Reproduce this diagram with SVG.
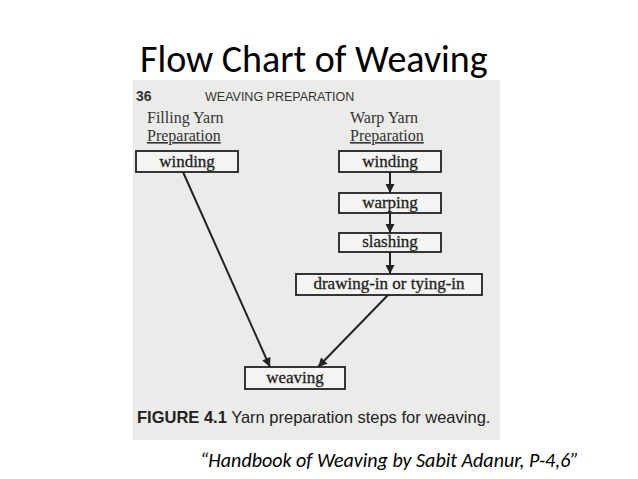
<svg xmlns="http://www.w3.org/2000/svg" width="638" height="479" viewBox="0 0 638 479">
<defs>
<marker id="ah" viewBox="0 0 10 10" refX="10" refY="5" markerWidth="10" markerHeight="9" orient="auto" markerUnits="userSpaceOnUse"><path d="M0,0 L10,5 L0,10 z" fill="#222"/></marker>
<style>
.box{fill:#f4f4f2;stroke:#222;stroke-width:1.8}
.t{font-family:"Liberation Serif",serif;font-size:17px;fill:#222;stroke:#222;stroke-width:0.3;text-anchor:middle}
.h{font-family:"Liberation Serif",serif;font-size:16px;fill:#333}
.c{stroke:#222;stroke-width:2;fill:none;marker-end:url(#ah)}
</style>
</defs>
<rect width="638" height="479" fill="#fff"/>
<text x="140" y="72" font-family="Carlito,'Open Sans','Liberation Sans',sans-serif" font-size="38" fill="#000">Flow Chart of Weaving</text>
<rect x="133" y="80" width="367" height="360" fill="#ebebea"/>
<text x="136" y="101" font-family="'Liberation Sans',sans-serif" font-size="14" font-weight="bold" fill="#333">36</text>
<text x="205" y="101" font-family="'Liberation Sans',sans-serif" font-size="12.5" fill="#333">WEAVING PREPARATION</text>
<text x="147" y="123" class="h">Filling Yarn</text>
<text x="147" y="141" class="h" text-decoration="underline">Preparation</text>
<text x="350" y="123" class="h">Warp Yarn</text>
<text x="350" y="141" class="h" text-decoration="underline">Preparation</text>
<g id="connectors">
<line class="c" x1="183" y1="172" x2="270" y2="367"/>
<line class="c" x1="390" y1="172" x2="390" y2="193"/>
<line class="c" x1="390" y1="213" x2="390" y2="233"/>
<line class="c" x1="390" y1="252" x2="390" y2="274"/>
<line class="c" x1="388" y1="295" x2="318" y2="367"/>
</g>
<g id="n1"><rect class="box" x="136" y="151" width="102" height="21"/><text class="t" x="187" y="167">winding</text></g>
<g id="n2"><rect class="box" x="339" y="151" width="102" height="21"/><text class="t" x="390" y="167">winding</text></g>
<g id="n3"><rect class="box" x="339" y="193" width="102" height="20"/><text class="t" x="390" y="208">warping</text></g>
<g id="n4"><rect class="box" x="339" y="233" width="102" height="19"/><text class="t" x="390" y="247">slashing</text></g>
<g id="n5"><rect class="box" x="296" y="274" width="186" height="21"/><text class="t" x="389" y="289">drawing-in or tying-in</text></g>
<g id="n6"><rect class="box" x="245" y="367" width="100" height="22"/><text class="t" x="295" y="383">weaving</text></g>
<text x="137" y="423" font-family="'Liberation Sans',sans-serif" font-size="16.5" fill="#222"><tspan font-weight="bold">FIGURE 4.1</tspan>  Yarn preparation steps for weaving.</text>
<text x="200" y="467" font-family="Carlito,'Open Sans','Liberation Sans',sans-serif" font-size="20" font-style="italic" fill="#000">“Handbook of Weaving by Sabit Adanur, P-4,6”</text>
</svg>
